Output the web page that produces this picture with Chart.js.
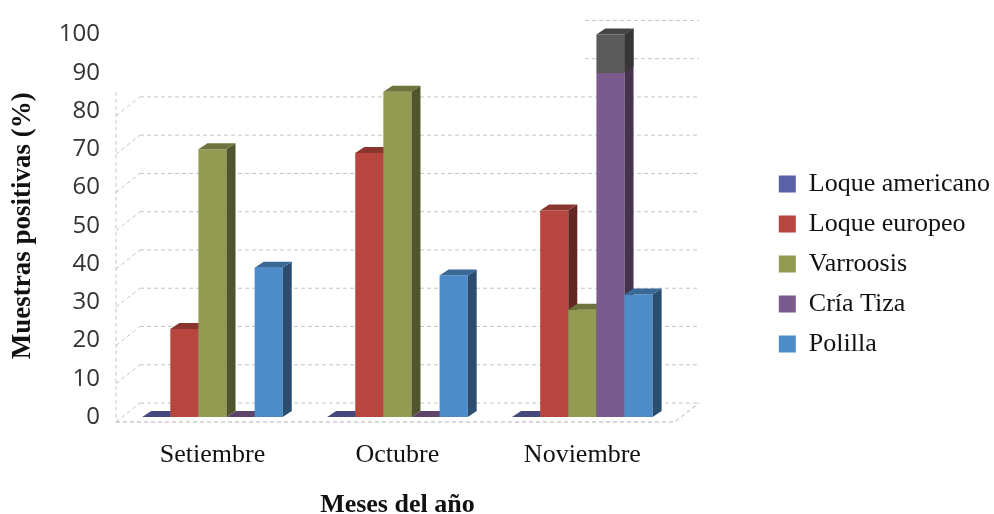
<!DOCTYPE html>
<html>
<head>
<meta charset="utf-8">
<script src="https://cdn.jsdelivr.net/npm/chart.js@4.4.1/dist/chart.umd.min.js"></script>
<style>
  html, body { margin: 0; padding: 0; background: #ffffff; }
  #wrap { width: 994px; height: 514px; position: relative; }
</style>
</head>
<body>
<div id="wrap"><canvas id="chart" width="994" height="514"></canvas></div>
<script>
// Categories and series (percentage of positive samples)
const months = ['Setiembre', 'Octubre', 'Noviembre'];
const seriesNames = ['Loque americano', 'Loque europeo', 'Varroosis', 'Cría Tiza', 'Polilla'];
const loqueAmericano = [0, 0, 0];
const loqueEuropeo = [23, 69, 54];
const varroosis = [70, 85, 28];
const criaTiza = [0, 0, 100];
const polilla = [39, 37, 32];
const yTicks = [0, 10, 20, 30, 40, 50, 60, 70, 80, 90, 100];

// Styling
const seriesColors = ['#5a62a6', '#b8463e', '#939a52', '#7b5a8d', '#4d8ccb'];
const CAP_FROM = 90;          // Cría Tiza bar turns dark grey above this level
const CAP_COLOR = '#5b5b5b';
const DX = 9, DY = 6;         // bar depth offset
const WALL_DX = 20, WALL_DY = 14;
const SERIF = '"Liberation Serif", "Times New Roman", serif';

function shade(hex, f) {
  const n = parseInt(hex.slice(1), 16);
  const r = Math.round(((n >> 16) & 255) * f);
  const g = Math.round(((n >> 8) & 255) * f);
  const b = Math.round((n & 255) * f);
  return `rgb(${r},${g},${b})`;
}

function barFill(dsIndex) {
  const base = seriesColors[dsIndex];
  if (dsIndex !== 3) return base;
  return (ctx) => {
    const chart = ctx.chart;
    if (!chart.chartArea || ctx.type !== 'data') return base;
    const y = chart.scales.y;
    const y100 = y.getPixelForValue(100), y0 = y.getPixelForValue(0);
    const g = chart.ctx.createLinearGradient(0, y100, 0, y0);
    const stop = (100 - CAP_FROM) / 100;
    g.addColorStop(0, CAP_COLOR);
    g.addColorStop(stop, CAP_COLOR);
    g.addColorStop(stop, base);
    g.addColorStop(1, base);
    return g;
  };
}

const seriesValues = [loqueAmericano, loqueEuropeo, varroosis, criaTiza, polilla];
const datasets = seriesNames.map((name, i) => ({
  label: name,
  data: seriesValues[i],
  backgroundColor: barFill(i),
  borderWidth: 0,
  categoryPercentage: 0.76,
  barPercentage: 1.0
}));

// Back wall, floor and left wall of the 3D box
const box3d = {
  id: 'box3d',
  beforeDatasetsDraw(chart) {
    const { ctx, chartArea: a, scales: { y } } = chart;
    const bottom = y.getPixelForValue(0);
    ctx.save();
    ctx.strokeStyle = '#c4c4c4';
    ctx.lineWidth = 1;
    ctx.setLineDash([4, 3]);
    yTicks.forEach(v => {
      const py = y.getPixelForValue(v) - WALL_DY;
      const startX = py < 80 ? 585 : a.left + WALL_DX;
      ctx.beginPath();
      ctx.moveTo(startX, py);
      ctx.lineTo(a.right + WALL_DX + 4, py);
      ctx.stroke();
      if (py > 80) {
        ctx.beginPath();
        ctx.moveTo(a.left - 4, py + WALL_DY + 5);
        ctx.lineTo(a.left + WALL_DX, py);
        ctx.stroke();
      }
    });
    // left wall edge
    ctx.beginPath();
    ctx.moveTo(a.left - 4, y.getPixelForValue(85));
    ctx.lineTo(a.left - 4, bottom + 5);
    ctx.stroke();
    // floor front edge and right edge
    ctx.strokeStyle = '#b0b0b0';
    ctx.beginPath();
    ctx.moveTo(a.left - 4, bottom + 5);
    ctx.lineTo(a.right, bottom + 5);
    ctx.lineTo(a.right + WALL_DX + 4, bottom - WALL_DY);
    ctx.stroke();
    ctx.restore();
  }
};

// Bars are painted left to right so that each front face covers the
// side face of its left neighbour; top and side faces give the depth.
const barDepth = {
  id: 'barDepth',
  beforeDatasetDraw() { return false; },
  afterDatasetsDraw(chart) {
    const ctx = chart.ctx;
    const y = chart.scales.y;
    const capY = y.getPixelForValue(CAP_FROM);
    const metas = chart.data.datasets.map((d, i) => chart.getDatasetMeta(i));
    months.forEach((m, ci) => {
      metas.forEach((meta, dsIndex) => {
        const bar = meta.data[ci];
        if (!bar) return;
        bar.draw(ctx);
        const base = seriesColors[dsIndex];
        const p = bar.getProps(['x', 'y', 'base', 'width'], true);
        const l = p.x - p.width / 2, r = p.x + p.width / 2;
        const top = Math.min(p.y, p.base), bot = Math.max(p.y, p.base);
        const capped = dsIndex === 3 && top < capY;
        ctx.save();
        if (bot - top > 0) {
          ctx.fillStyle = shade(base, 0.55);
          ctx.beginPath();
          ctx.moveTo(r, top);
          ctx.lineTo(r + DX, top - DY);
          ctx.lineTo(r + DX, bot - DY);
          ctx.lineTo(r, bot);
          ctx.closePath();
          ctx.fill();
          if (capped) {
            ctx.fillStyle = shade(CAP_COLOR, 0.6);
            ctx.beginPath();
            ctx.moveTo(r, top);
            ctx.lineTo(r + DX, top - DY);
            ctx.lineTo(r + DX, capY - DY);
            ctx.lineTo(r, capY);
            ctx.closePath();
            ctx.fill();
          }
        }
        ctx.fillStyle = shade(capped ? CAP_COLOR : base, 0.75);
        ctx.beginPath();
        ctx.moveTo(l, top);
        ctx.lineTo(l + DX, top - DY);
        ctx.lineTo(r + DX, top - DY);
        ctx.lineTo(r, top);
        ctx.closePath();
        ctx.fill();
        ctx.restore();
      });
    });
  }
};

const PLOT_LEFT = 120, PLOT_BOTTOM = 417, PAD_LEFT = 8, PAD_TOP = 33, PAD_RIGHT = -6;

new Chart(document.getElementById('chart'), {
  type: 'bar',
  data: { labels: months, datasets },
  plugins: [box3d, barDepth],
  options: {
    responsive: false,
    animation: false,
    layout: { padding: { left: PAD_LEFT, top: PAD_TOP, right: PAD_RIGHT, bottom: 0 } },
    plugins: {
      tooltip: { enabled: false },
      legend: {
        position: 'right',
        align: 'start',
        title: { display: true, text: ' ', font: { size: 10, lineHeight: 1 }, padding: { top: 114, bottom: 0 } },
        labels: {
          boxWidth: 17,
          boxHeight: 17,
          padding: 14,
          color: '#111',
          font: { family: SERIF, size: 26 }
        }
      }
    },
    scales: {
      x: {
        grid: { display: false, drawTicks: false },
        border: { display: false },
        ticks: { color: '#111', font: { family: SERIF, size: 26 }, padding: 23 },
        title: {
          display: true, text: 'Meses del año', color: '#111',
          font: { family: SERIF, size: 26, weight: 'bold', lineHeight: 1 },
          padding: { top: 0, bottom: -4 }
        },
        afterFit: s => { s.height = 514 - PLOT_BOTTOM; }
      },
      y: {
        min: 0, max: 100,
        afterBuildTicks: s => { s.ticks = yTicks.map(v => ({ value: v })); },
        grid: { display: false, drawTicks: false },
        border: { display: false },
        ticks: { color: '#333333', font: { family: '"Open Sans", sans-serif', size: 24 }, padding: 20 },
        title: {
          display: true, text: 'Muestras positivas (%)', color: '#111',
          font: { family: SERIF, size: 27, weight: 'bold', lineHeight: 1.1 },
          padding: { top: 0, bottom: 0 }
        },
        afterFit: s => { s.width = PLOT_LEFT - PAD_LEFT; }
      },
      gap: {
        type: 'linear', position: 'right', display: false,
        afterFit: s => { s.width = 90; }
      }
    }
  }
});
</script>
</body>
</html>
